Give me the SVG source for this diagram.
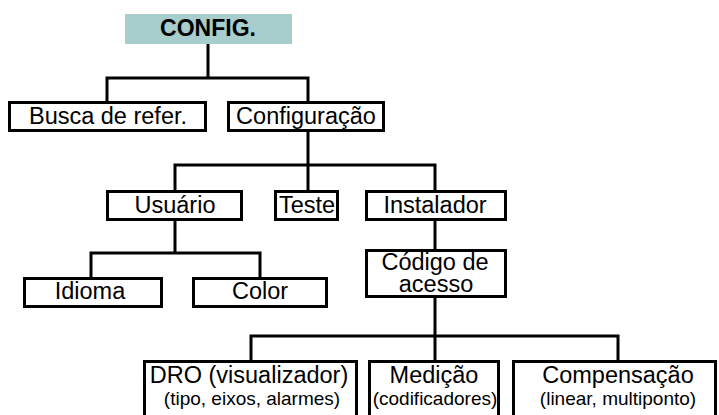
<svg xmlns="http://www.w3.org/2000/svg" width="719" height="415" viewBox="0 0 719 415">
<style>
.box{fill:#ffffff;stroke:#000000;stroke-width:3}
.t{font-family:"Liberation Sans",Arial,sans-serif;font-size:23.5px;fill:#000000;text-anchor:middle}
.s{font-size:19px}
.b{font-weight:bold;font-size:23px}
.c{fill:none;stroke:#000000;stroke-width:3;stroke-linejoin:miter}
</style>
<rect width="719" height="415" fill="#ffffff"/>
<g id="connectors">
<path class="c" d="M208 44V78M107 101V78H308V101"/>
<path class="c" d="M308 132V190M175 191V165H435V190"/>
<path class="c" d="M175 221V253M91 277V253H260V277"/>
<path class="c" d="M435 220V249"/>
<path class="c" d="M435 298V360M251 360V336H618V360"/>
</g>
<g id="config">
<rect x="125" y="14" width="167" height="30" fill="#a8cdcd"/>
<text class="t b" x="208" y="36">CONFIG.</text>
</g>
<g id="busca">
<rect class="box" x="9.5" y="102.5" width="196" height="28"/>
<text class="t" x="108" y="124">Busca de refer.</text>
</g>
<g id="configuracao">
<rect class="box" x="228.5" y="102.5" width="155" height="28"/>
<text class="t" x="306" y="124">Configuração</text>
</g>
<g id="usuario">
<rect class="box" x="107.5" y="191.5" width="134" height="28"/>
<text class="t" x="175" y="213">Usuário</text>
</g>
<g id="teste">
<rect class="box" x="275.5" y="191.5" width="62" height="28"/>
<text class="t" x="307" y="213">Teste</text>
</g>
<g id="instalador">
<rect class="box" x="366.5" y="191.5" width="139" height="28"/>
<text class="t" x="435" y="213">Instalador</text>
</g>
<g id="idioma">
<rect class="box" x="24.5" y="278.5" width="137" height="28"/>
<text class="t" x="90" y="299">Idioma</text>
</g>
<g id="color">
<rect class="box" x="193.5" y="278.5" width="133" height="28"/>
<text class="t" x="260" y="299">Color</text>
</g>
<g id="codigo">
<rect class="box" x="366.5" y="250.5" width="139" height="46"/>
<text class="t" x="435" y="270">Código de</text>
<text class="t" x="436" y="292">acesso</text>
</g>
<g id="dro">
<rect class="box" x="144.5" y="361.5" width="212" height="60"/>
<text class="t" x="249" y="383">DRO (visualizador)</text>
<text class="t s" x="252" y="405">(tipo, eixos, alarmes)</text>
</g>
<g id="medicao">
<rect class="box" x="369.5" y="361.5" width="129" height="60"/>
<text class="t" x="434" y="383">Medição</text>
<text class="t s" x="435" y="405">(codificadores)</text>
</g>
<g id="compensacao">
<rect class="box" x="513.5" y="361.5" width="202" height="60"/>
<text class="t" x="618" y="383">Compensação</text>
<text class="t s" x="618" y="405">(linear, multiponto)</text>
</g>
</svg>
